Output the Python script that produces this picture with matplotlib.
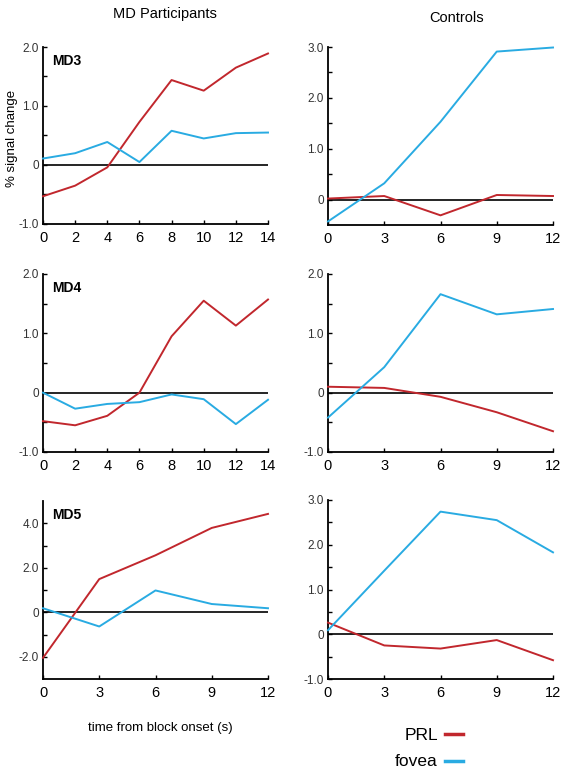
import matplotlib
matplotlib.use("Agg")
import matplotlib.pyplot as plt
from matplotlib.ticker import FixedLocator

plt.rcParams['font.family'] = ['Liberation Sans', 'DejaVu Sans']

# --- data ---
t_md_long = [0, 2, 4, 6, 8, 10, 12, 14]
t_short = [0, 3, 6, 9, 12]

md3_prl = [-0.53, -0.35, -0.04, 0.73, 1.44, 1.26, 1.65, 1.89]
md3_fovea = [0.11, 0.20, 0.39, 0.05, 0.58, 0.45, 0.54, 0.55]

md4_prl = [-0.48, -0.55, -0.39, 0.0, 0.95, 1.55, 1.13, 1.57]
md4_fovea = [0.0, -0.27, -0.19, -0.16, -0.03, -0.11, -0.53, -0.12]

md5_prl = [-2.05, 1.49, 2.56, 3.79, 4.42]
md5_fovea = [0.18, -0.64, 0.98, 0.37, 0.18]

ctl1_prl = [0.02, 0.07, -0.31, 0.09, 0.07]
ctl1_fovea = [-0.43, 0.32, 1.53, 2.91, 2.99]

ctl2_prl = [0.10, 0.08, -0.07, -0.33, -0.65]
ctl2_fovea = [-0.42, 0.43, 1.66, 1.32, 1.41]

ctl3_prl = [0.26, -0.25, -0.32, -0.13, -0.58]
ctl3_fovea = [0.09, 1.42, 2.74, 2.55, 1.83]

RED = '#c1272d'
BLUE = '#29abe2'

fig = plt.figure(figsize=(5.66, 7.74), dpi=100)

W, H = 566.0, 774.0


def make_ax(left, top, right, bottom):
    return fig.add_axes([left / W, 1 - bottom / H, (right - left) / W, (bottom - top) / H])


def style(ax, x, ylim, yticks, ylabels, minor):
    ax.set_xlim(x[0], x[-1])
    ax.set_ylim(*ylim)
    ax.spines['top'].set_visible(False)
    ax.spines['right'].set_visible(False)
    ax.spines['left'].set_linewidth(1.3)
    ax.spines['bottom'].set_linewidth(1.3)
    ax.set_xticks(x)
    ax.set_yticks(yticks)
    ax.set_yticklabels(ylabels)
    ax.yaxis.set_minor_locator(FixedLocator(minor))
    ax.tick_params(axis='x', direction='in', length=3, width=1, labelsize=10.5, pad=5)
    ax.tick_params(axis='y', direction='in', length=3, width=1, labelsize=8.5,
                   labelcolor='#333333', pad=3)
    ax.tick_params(axis='y', which='minor', direction='in', length=3, width=1)
    ax.axhline(0, color='black', lw=1.2, zorder=1)
    ax.patch.set_visible(False)


def draw(ax, x, prl, fov):
    ax.plot(x, prl, color=RED, lw=1.4, zorder=3, clip_on=False)
    ax.plot(x, fov, color=BLUE, lw=1.4, zorder=3, clip_on=False)


# MD column
ax1 = make_ax(43, 47, 268, 224)
style(ax1, t_md_long, (-1, 2), [-1, 0, 1, 2], ['-1.0', '0', '1.0', '2.0'], [-0.5, 0.5, 1.5])
draw(ax1, t_md_long, md3_prl, md3_fovea)
ax1.text(0.04, 0.92, 'MD3', transform=ax1.transAxes, fontsize=10, fontweight='bold', va='center')

ax3 = make_ax(43, 274, 268, 452)
style(ax3, t_md_long, (-1, 2), [-1, 0, 1, 2], ['-1.0', '0', '1.0', '2.0'], [-0.5, 0.5, 1.5])
draw(ax3, t_md_long, md4_prl, md4_fovea)
ax3.text(0.04, 0.92, 'MD4', transform=ax3.transAxes, fontsize=10, fontweight='bold', va='center')

ax5 = make_ax(43, 501, 268, 679)
style(ax5, t_short, (-3, 5), [-2, 0, 2, 4], ['-2.0', '0', '2.0', '4.0'], [-1, 1, 3])
draw(ax5, t_short, md5_prl, md5_fovea)
ax5.text(0.04, 0.92, 'MD5', transform=ax5.transAxes, fontsize=10, fontweight='bold', va='center')

# Controls column
ax2 = make_ax(328, 47, 553, 225)
style(ax2, t_short, (-0.5, 3), [0, 1, 2, 3], ['0', '1.0', '2.0', '3.0'], [0.5, 1.5, 2.5])
draw(ax2, t_short, ctl1_prl, ctl1_fovea)

ax4 = make_ax(328, 274, 553, 452)
style(ax4, t_short, (-1, 2), [-1, 0, 1, 2], ['-1.0', '0', '1.0', '2.0'], [-0.5, 0.5, 1.5])
draw(ax4, t_short, ctl2_prl, ctl2_fovea)

ax6 = make_ax(328, 500, 553, 679)
style(ax6, t_short, (-1, 3), [-1, 0, 1, 2, 3], ['-1.0', '0', '1.0', '2.0', '3.0'],
      [-0.5, 0.5, 1.5, 2.5])
draw(ax6, t_short, ctl3_prl, ctl3_fovea)

# column titles and labels
fig.text(165 / W, 1 - 14 / H, 'MD Participants', ha='center', va='center', fontsize=10.5)
fig.text(457 / W, 1 - 18 / H, 'Controls', ha='center', va='center', fontsize=10.5)
fig.text(160 / W, 1 - 728 / H, 'time from block onset (s)', ha='center', va='center', fontsize=9.5)
fig.text(12 / W, 1 - 138 / H, '% signal change', ha='center', va='center',
         rotation=90, fontsize=9.5)

# legend
fig.text(438 / W, 1 - 735 / H, 'PRL', ha='right', va='center', fontsize=12.5)
fig.text(438 / W, 1 - 762 / H, 'fovea', ha='right', va='center', fontsize=12.5)
fig.add_artist(plt.Line2D([445 / W, 463 / W], [1 - 734 / H] * 2, color=RED, lw=2.5))
fig.add_artist(plt.Line2D([445 / W, 463 / W], [1 - 761 / H] * 2, color=BLUE, lw=2.5))

fig.savefig('out.png', dpi=100)
